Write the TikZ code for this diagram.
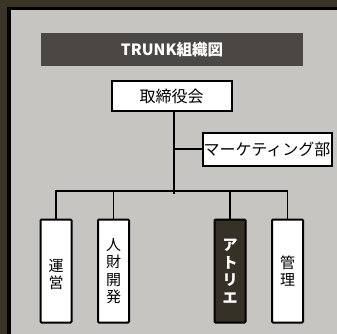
\documentclass[tikz,border=0pt]{standalone}
\usepackage{fontspec}
\setmainfont{Noto Sans CJK JP}
\usepackage{tikz}

\definecolor{framedark}{HTML}{3A3428}
\definecolor{panel}{HTML}{C6C5C1}
\definecolor{titlebar}{HTML}{4B4745}
\definecolor{atelierfill}{HTML}{353126}

\begin{document}
\begin{tikzpicture}[
    x=1pt, y=-1pt,
    line width=1.3pt,
    box/.style={draw, line width=2pt, fill=white, inner sep=0pt, font=\fontsize{16}{18}\selectfont},
    dept/.style={box, minimum width=31pt, minimum height=103pt, rounded corners=1pt, align=center, font=\fontsize{15}{17.5}\selectfont},
    title/.style={fill=titlebar, text=white, minimum width=262pt, minimum height=33pt, inner sep=0pt, font=\fontsize{15.5}{18}\selectfont\bfseries}
  ]
    \useasboundingbox (0,0) rectangle (337,334);

    % Frame
    \fill[framedark] (0,0) rectangle (337,334);
    \fill[black] (7,7) rectangle (337,334);
    \fill[panel] (10.5,10.5) rectangle (337,334);

    % Heading
    \node[title] (head) at (172, 49.5) {TRUNK組織図};

    % Top level
    \node[box, minimum width=120pt, minimum height=30pt] (board) at (171.5, 96) {取締役会};
    \node[box, minimum width=129pt, minimum height=33pt] (marketing) at (267, 149) {マーケティング部};

    % Departments
    \node[dept] (unei) at (56, 271) {\\[2pt]運\\営};
    \node[dept] (jinzai) at (113.5, 271) {人\\財\\開\\発};
    \node[dept, fill=atelierfill, text=white, font=\fontsize{15}{17.5}\selectfont\bfseries] (atelier) at (230, 271) {ア\\ト\\リ\\エ};
    \node[dept] (kanri) at (287.5, 271) {管\\理};

    \coordinate (bar) at (174, 191);

    % Connections
    \draw (board.south -| bar) -- ++(0, 82);
    \draw (marketing.west) -- (marketing.west -| bar);
    \draw (unei.north) |- (bar) -| (kanri.north);
    \draw (jinzai.north) -- (jinzai.north |- bar);
    \draw (atelier.north) -- (atelier.north |- bar);
  \end{tikzpicture}
\end{document}
